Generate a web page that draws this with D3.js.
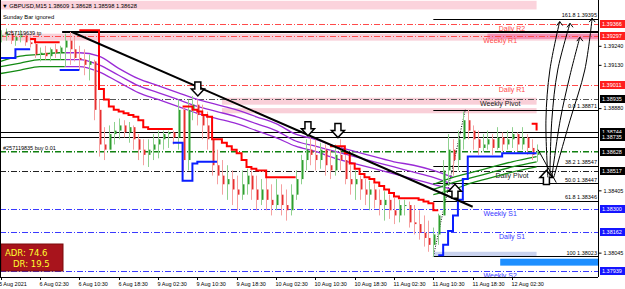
<!DOCTYPE html>
<html>
<head>
<meta charset="utf-8">
<script src="https://cdn.jsdelivr.net/npm/d3@7"></script>
<style>
  body { margin: 0; background: #fff; }
  svg { display: block; font-family: "Liberation Sans", Arial, sans-serif; }
</style>
</head>
<body>
<svg id="chart" width="625" height="289"></svg>
<script>
// ---- DATA (hourly slots, slot 0 = 5 Aug 18:30) ----
const timeSlots = [0, 8, 16, 24, 32, 40, 48, 56, 64, 72, 80, 88, 96, 104];
const timeLabels = ["5 Aug 2021", "6 Aug 02:30", "6 Aug 10:30", "6 Aug 18:30", "9 Aug 02:30",
  "9 Aug 10:30", "9 Aug 18:30", "10 Aug 02:30", "10 Aug 10:30", "10 Aug 18:30",
  "11 Aug 02:30", "11 Aug 10:30", "11 Aug 18:30", "12 Aug 02:30"];

const hi = [1.3933,1.3934,1.3933,1.3932,1.3933,1.3931,1.3930,1.3926,1.3923,1.3924,
  1.3923,1.3925,1.3924,1.3931,1.3932,1.3929,1.3924,1.3922,1.3919,1.3916,
  1.3893,1.3877,1.3878,1.3880,1.3882,1.3881,1.3880,1.3878,1.3873,1.3870,
  1.3870,1.3873,1.3875,1.3875,1.3875,1.3875,1.3893,1.3888,1.3893,1.3895,
  1.3893,1.3890,1.3886,1.3867,1.3864,1.3858,1.3855,1.3852,1.3849,1.3852,
  1.3853,1.3852,1.3849,1.3847,1.3848,1.3844,1.3847,1.3844,1.3841,1.3844,
  1.3852,1.3861,1.3870,1.3871,1.3870,1.3868,1.3867,1.3864,1.3867,1.3870,
  1.3861,1.3855,1.3852,1.3849,1.3847,1.3846,1.3844,1.3841,1.3840,1.3838,
  1.3836,1.3835,1.3835,1.3834,1.3832,1.3829,1.3826,1.3823,1.3819,1.3827,
  1.3858,1.3873,1.3870,1.3875,1.3886,1.3887,1.3878,1.3875,1.3873,1.3875,
  1.3873,1.3877,1.3874,1.3875,1.3877,1.3874,1.3877,1.3873,1.3870,1.3867];
const lo = [1.3926,1.3927,1.3925,1.3924,1.3926,1.3924,1.3923,1.3917,1.3915,1.3916,
  1.3915,1.3917,1.3916,1.3912,1.3913,1.3915,1.3910,1.3907,1.3904,1.3881,
  1.3860,1.3858,1.3864,1.3867,1.3870,1.3871,1.3868,1.3864,1.3858,1.3855,
  1.3854,1.3858,1.3859,1.3864,1.3865,1.3867,1.3864,1.3851,1.3852,1.3881,
  1.3878,1.3870,1.3864,1.3849,1.3844,1.3838,1.3835,1.3832,1.3829,1.3835,
  1.3838,1.3835,1.3829,1.3832,1.3829,1.3826,1.3829,1.3826,1.3823,1.3826,
  1.3835,1.3844,1.3852,1.3855,1.3852,1.3853,1.3849,1.3847,1.3849,1.3852,
  1.3844,1.3838,1.3835,1.3835,1.3832,1.3829,1.3830,1.3826,1.3823,1.3824,
  1.3821,1.3822,1.3826,1.3819,1.3815,1.3812,1.3808,1.3805,1.3802,1.3809,
  1.3826,1.3844,1.3849,1.3852,1.3864,1.3870,1.3864,1.3861,1.3863,1.3864,
  1.3861,1.3864,1.3863,1.3864,1.3865,1.3863,1.3864,1.3861,1.3858,1.3857];
const cl = [1.3930,1.3931,1.3927,1.3929,1.3930,1.3926,1.3925,1.3919,1.3920,1.3918,
  1.3922,1.3920,1.3923,1.3927,1.3922,1.3917,1.3916,1.3913,1.3915,1.3887,
  1.3867,1.3864,1.3873,1.3875,1.3878,1.3874,1.3877,1.3870,1.3864,1.3861,
  1.3864,1.3867,1.3870,1.3873,1.3874,1.3871,1.3887,1.3858,1.3887,1.3890,
  1.3884,1.3878,1.3870,1.3855,1.3849,1.3844,1.3847,1.3841,1.3838,1.3844,
  1.3849,1.3841,1.3835,1.3841,1.3835,1.3832,1.3838,1.3832,1.3829,1.3838,
  1.3847,1.3858,1.3864,1.3861,1.3858,1.3864,1.3855,1.3852,1.3861,1.3858,
  1.3847,1.3844,1.3847,1.3841,1.3838,1.3841,1.3835,1.3832,1.3835,1.3829,
  1.3826,1.3832,1.3832,1.3822,1.3821,1.3816,1.3813,1.3809,1.3815,1.3826,
  1.3852,1.3864,1.3858,1.3870,1.3881,1.3875,1.3870,1.3865,1.3867,1.3870,
  1.3865,1.3871,1.3867,1.3870,1.3873,1.3867,1.3871,1.3865,1.3861,1.38628];

const redStop = [null,null,null,null,null,null,1.3928,1.3926,1.3926,1.3926,
  1.3926,1.3926,1.3926,null,null,null,1.3933,1.3933,1.3933,1.3933,
  1.3899,1.3893,1.3889,1.3887,1.3886,1.3885,1.3884,1.3883,1.3881,1.3877,
  1.3876,1.3876,1.3876,1.3876,1.3876,1.3876,null,1.3889,1.3889,1.3887,
  1.3886,1.3884,1.3883,1.3870,1.3870,1.3868,1.3866,1.3864,1.3862,1.3858,
  1.3854,1.3853,1.3852,1.3852,1.3848,1.3848,1.3848,1.3848,1.3848,1.3848,
  1.3848,null,null,null,null,null,null,1.3866,1.3866,1.3866,
  1.3862,1.3856,1.3853,1.3850,1.3848,1.3847,1.3845,1.3843,1.3841,1.3839,
  1.3837,1.3836,1.3836,1.3836,1.3836,1.3835,1.3834,1.3833,1.3829,1.3829,
  null,null,null,null,null,null,null,null,null,null,
  null,null,null,null,null,null,null,null,1.3879,1.3875];
const blueStop = [1.3917,1.3917,1.3917,1.3922,1.3922,1.3922,1.3922,null,null,null,
  null,null,1.3910,1.3910,1.3910,1.3910,1.3910,null,null,null,
  null,null,null,null,null,null,null,null,null,null,
  null,null,null,null,null,1.3868,1.3868,1.3846,1.3846,1.3856,
  1.3857,1.3857,1.3857,1.3857,1.3857,null,null,null,null,null,
  null,null,null,null,null,null,null,null,null,null,
  null,null,null,null,null,null,null,null,null,null,
  null,null,null,null,null,null,null,null,null,null,
  null,null,null,null,null,null,null,null,null,1.3803,
  1.3809,1.3817,1.3826,1.3835,1.3847,1.3860,1.3860,1.3860,1.3860,1.3860,
  1.3860,1.3860,1.3862,1.3862,1.3862,1.3862,1.3862,1.3862,1.3862,1.3862];

// moving-average envelope (purple while falling, green while rising)
const purpleSlots = [13,16,20,24,28,32,36,40,44,48,52,56,60,64,68,72,76,80,84,88,92];
const purpleTop = [1.3920,1.3920,1.3918,1.3911,1.3905,1.3901,1.3897,1.3893,1.3890,1.3887,1.3883,
  1.3879,1.3873,1.3870,1.3866,1.3863,1.3860,1.3857,1.3855,1.3852,1.3848];
const purpleMid = [1.3916,1.3916,1.3913,1.3907,1.3901,1.3897,1.3893,1.3889,1.3886,1.3883,1.3879,
  1.3875,1.3869,1.3866,1.3863,1.3860,1.3857,1.3854,1.3851,1.3848,1.3844];
const purpleBot = [1.3912,1.3912,1.3909,1.3903,1.3897,1.3893,1.3889,1.3885,1.3882,1.3879,1.3875,
  1.3871,1.3866,1.3863,1.3859,1.3856,1.3853,1.3850,1.3847,1.3844,1.3841];
const greenLeftSlots = [0, 4, 8, 12, 13];
const greenLeftTop = [1.3915, 1.3918, 1.3919, 1.3920, 1.3920];
const greenLeftMid = [1.3912, 1.3914, 1.3916, 1.3916, 1.3916];
const greenLeftBot = [1.3908, 1.3910, 1.3912, 1.3912, 1.3912];
const greenRightSlots = [88, 92, 96, 100, 104, 109];
const greenRightTop = [1.3844, 1.3848, 1.3851, 1.3854, 1.3857, 1.3860];
const greenRightMid = [1.3841, 1.3845, 1.3848, 1.3851, 1.3854, 1.3857];
const greenRightBot = [1.3838, 1.3841, 1.3845, 1.3848, 1.3851, 1.3854];

// pivot levels
const pivotNames = ["Daily R2", "Weekly R1", "Daily R1", "Weekly Pivot", "Daily Pivot", "Weekly S1", "Daily S1", "Weekly S2"];
const pivotPrices = [1.39366, 1.39297, 1.39011, 1.38935, 1.38517, 1.38300, 1.38162, 1.37939];
const pivotKinds = ["R", "R", "R", "P", "P", "S", "S", "S"];
const pivotWeekly = [false, true, false, true, false, true, false, true];

// fibonacci from the 11 Aug low to the high
const fibRatios = ["0.0", "38.2", "50.0", "61.8", "100", "161.8"];
const fibPrices = [1.38871, 1.38547, 1.38447, 1.38346, 1.38023, 1.39395];
const fibAnchor = [[88, 1.38023], [94.5, 1.38871]];
const trendLine = [[14.5, 1.3932], [96, 1.3831]];

// order / manual lines
const tpPrice = 1.3932, buyPrice = 1.38628;
const blackLines = [1.38744, 1.38715];

// axis
const axisTicks = [1.39240, 1.39130, 1.38880, 1.38405, 1.38045];
const tagPrices = [1.39366, 1.39297, 1.39011, 1.38935, 1.38744, 1.38715, 1.38628, 1.38517, 1.38300, 1.38162, 1.37939];
const tagTexts = ["1.39366", "1.39297", "1.39011", "1.38935", "1.38744", "1.38735", "1.38628", "1.38517", "1.38300", "1.38162", "1.37939"];
const tagKinds = ["R", "R", "R", "K", "K", "K", "K", "K", "S", "S", "S"];

// annotations
const arrowsDown = [[40.1, 1.3895], [62.5, 1.3872], [68.6, 1.3871]];
const arrowsUp = [[92.4, 1.3844], [111, 1.3852]];
const sketchLines = [
  [[111.3, 1.3848], [110.9, 1.3881], [111.7, 1.3910], [113.7, 1.3938]],
  [[111.7, 1.3848], [112.1, 1.3881], [113.3, 1.3910], [115.8, 1.3937]],
  [[112.1, 1.3848], [113.8, 1.3881], [115.8, 1.3907], [117.8, 1.3929]],
  [[112.5, 1.3848], [115.8, 1.3881], [118.8, 1.3910], [120.3, 1.3940]]
];
const sketchCross = [[109.3, 1.3864], [113.0, 1.3845]];

// ---- SETUP ----
const svg = d3.select("#chart");
const plotR = 598, plotB = 277;
const x = d3.scaleLinear().domain([8, 104]).range([40, 512]);
const y = d3.scaleLinear().domain([1.37939, 1.39366]).range([271, 24]);
const xEnd = x.invert(plotR);

svg.append("defs").append("clipPath").attr("id", "clip")
  .append("rect").attr("x", 0).attr("y", 0).attr("width", plotR).attr("height", plotB);
const plot = svg.append("g").attr("clip-path", "url(#clip)");

const pinkZone = (p1, p2, s1, s2, col) => plot.append("rect")
  .attr("x", x(s1)).attr("width", x(s2) - x(s1))
  .attr("y", y(p2)).attr("height", y(p1) - y(p2)).attr("fill", col);

// ZONES
pinkZone(1.3945, 1.3950, 0, 109, "#fbd3dc");
pinkZone(1.3927, 1.3931, 0, xEnd, "#f9cfd8");
pinkZone(1.3928, 1.3931, 99, xEnd, "#f48fb6");
pinkZone(1.3890, 1.3894, 45, 109, "#f9cfd8");
pinkZone(1.3885, 1.3888, 45, 109, "#f9cfd8");
pinkZone(1.3802, 1.3805, 88, 109, "#c9d2ee");
pinkZone(1.3797, 1.3801, 101.6, xEnd, "#1e8fff");

// PIVOT LINES
const kindColor = { R: "#ff4a4a", P: "#555", S: "#3a3aff" };
pivotPrices.forEach((p, i) => {
  const c = pivotKinds[i] === "P" && !pivotWeekly[i] ? "#222" : kindColor[pivotKinds[i]];
  plot.append("line").attr("x1", 0).attr("x2", plotR)
    .attr("y1", Math.round(y(p)) + 0.5).attr("y2", Math.round(y(p)) + 0.5)
    .attr("stroke", c).attr("stroke-width", 1).attr("stroke-dasharray", "6,2,1,2");
  plot.append("text").attr("x", pivotWeekly[i] ? x(101.6) : x(104)).attr("y", y(p) + 7)
    .attr("text-anchor", "middle").attr("font-size", 7)
    .attr("fill", pivotKinds[i] === "P" ? "#222" : c).text(pivotNames[i]);
});

// order lines
plot.append("line").attr("x1", 0).attr("x2", plotR).attr("y1", y(buyPrice)).attr("y2", y(buyPrice))
  .attr("stroke", "#108010").attr("stroke-width", 1.6).attr("stroke-dasharray", "6,2,1,2");
blackLines.forEach(p => plot.append("line").attr("x1", 0).attr("x2", plotR)
  .attr("y1", Math.round(y(p)) + 0.5).attr("y2", Math.round(y(p)) + 0.5).attr("stroke", "#000"));
plot.append("line").attr("x1", x(12.5)).attr("x2", plotR).attr("y1", y(tpPrice)).attr("y2", y(tpPrice))
  .attr("stroke", "#000").attr("stroke-width", 2);

// FIB
fibPrices.forEach((p, i) => {
  plot.append("line").attr("x1", x(fibAnchor[0][0])).attr("x2", plotR)
    .attr("y1", Math.round(y(p)) + 0.5).attr("y2", Math.round(y(p)) + 0.5).attr("stroke", "#000");
  plot.append("text").attr("x", plotR - 1).attr("y", y(p) - 1.5).attr("text-anchor", "end")
    .attr("font-size", 5.5).attr("fill", "#000").text(fibRatios[i] + " " + p.toFixed(5));
});
plot.append("line").attr("x1", x(fibAnchor[0][0])).attr("y1", y(fibAnchor[0][1]))
  .attr("x2", x(fibAnchor[1][0])).attr("y2", y(fibAnchor[1][1]))
  .attr("stroke", "#000").attr("stroke-dasharray", "1,1.5");

// ENVELOPES
const env = (slots, vals, col) => plot.append("path")
  .datum(slots.map((s, i) => [s, vals[i]]))
  .attr("d", d3.line().x(d => x(d[0])).y(d => y(d[1])).curve(d3.curveMonotoneX))
  .attr("fill", "none").attr("stroke", col).attr("stroke-width", 1.3);
[purpleTop, purpleMid, purpleBot].forEach(v => env(purpleSlots, v, "#9a2bd6"));
[greenLeftTop, greenLeftMid, greenLeftBot].forEach(v => env(greenLeftSlots, v, "#138a13"));
[greenRightTop, greenRightMid, greenRightBot].forEach(v => env(greenRightSlots, v, "#138a13"));

// CANDLES
const candles = cl.map((c, i) => ({ i, o: i ? cl[i - 1] : c, h: hi[i], l: lo[i], c }));
const gc = plot.append("g");
gc.selectAll("line").data(candles).join("line")
  .attr("x1", d => Math.round(x(d.i)) + 0.5).attr("x2", d => Math.round(x(d.i)) + 0.5)
  .attr("y1", d => y(Math.max(d.h, d.o, d.c))).attr("y2", d => y(Math.min(d.l, d.o, d.c)))
  .attr("stroke", d => d.c >= d.o ? "#8fd18f" : "#f5a0a0");
gc.selectAll("rect").data(candles).join("rect")
  .attr("x", d => Math.round(x(d.i)) + 1).attr("width", 1.5)
  .attr("y", d => y(Math.max(d.o, d.c)))
  .attr("height", d => Math.max(1, Math.abs(y(d.o) - y(d.c))))
  .attr("fill", d => d.c >= d.o ? "#2f9e2f" : "#e83030");

// STOP LINES
const stopLine = d3.line().defined(d => d != null).x((d, i) => x(i)).y(d => y(d)).curve(d3.curveStepAfter);
plot.append("path").datum(redStop).attr("d", stopLine).attr("fill", "none")
  .attr("stroke", "#ff0000").attr("stroke-width", 2);
plot.append("path").datum(blueStop).attr("d", stopLine).attr("fill", "none")
  .attr("stroke", "#0a1eff").attr("stroke-width", 2);

// TREND LINE
plot.append("line").attr("x1", x(trendLine[0][0])).attr("y1", y(trendLine[0][1]))
  .attr("x2", x(trendLine[1][0])).attr("y2", y(trendLine[1][1]))
  .attr("stroke", "#000").attr("stroke-width", 2);

// ARROWS
const arrowPts = "-3,-14 3,-14 3,-7 6.5,-7 0,0 -6.5,-7 -3,-7";
arrowsDown.forEach(a => plot.append("polygon").attr("points", arrowPts)
  .attr("transform", `translate(${x(a[0])},${y(a[1])})`)
  .attr("fill", "#fff").attr("stroke", "#000").attr("stroke-width", 1.5));
arrowsUp.forEach(a => plot.append("polygon").attr("points", arrowPts)
  .attr("transform", `translate(${x(a[0])},${y(a[1])}) scale(1,-1)`)
  .attr("fill", "#fff").attr("stroke", "#000").attr("stroke-width", 1.5));

// hand drawn arrows
const sk = d3.line().x(d => x(d[0])).y(d => y(d[1])).curve(d3.curveCatmullRom);
sketchLines.forEach(s => {
  plot.append("path").datum(s).attr("d", sk).attr("fill", "none").attr("stroke", "#000").attr("stroke-width", 1);
  const t = s[s.length - 1];
  plot.append("path").attr("d", `M${x(t[0]) - 3},${y(t[1]) + 4}L${x(t[0])},${y(t[1])}L${x(t[0]) + 3},${y(t[1]) + 4}`)
    .attr("fill", "none").attr("stroke", "#000");
});
plot.append("path").datum(sketchCross).attr("d", sk).attr("fill", "none").attr("stroke", "#000");

// TEXT OVERLAYS
const t = (tx, ty, s, size, col) => plot.append("text").attr("x", tx).attr("y", ty)
  .attr("font-size", size).attr("fill", col || "#000").text(s);
t(2, 8, "\u25BC GBPUSD,M15  1.38609 1.38628 1.38598 1.38628", 5.8);
t(3, 19, "Sunday Bar ignored", 5.8);
t(5, 35, "#257119639 tp", 5.5);
t(3, 150, "#257119835 buy 0.01", 5.5);

// ADR box
plot.append("rect").attr("x", 1).attr("y", 244).attr("width", 62).attr("height", 27)
  .attr("fill", "#a8141c").attr("stroke", "#7a0a0a");
plot.append("text").attr("x", 5).attr("y", 256).attr("font-family", "DejaVu Sans")
  .attr("font-size", 8.5).attr("fill", "#ffff30").text("ADR: 74.6");
plot.append("text").attr("x", 13).attr("y", 267).attr("font-family", "DejaVu Sans")
  .attr("font-size", 8.5).attr("fill", "#ffff30").text("DR: 19.5");

// AXES
svg.append("line").attr("x1", 0.5).attr("x2", 0.5).attr("y1", 0).attr("y2", plotB).attr("stroke", "#000");
svg.append("line").attr("x1", plotR + 0.5).attr("x2", plotR + 0.5).attr("y1", 0).attr("y2", plotB).attr("stroke", "#000");
svg.append("line").attr("x1", 0).attr("x2", plotR).attr("y1", plotB + 0.5).attr("y2", plotB + 0.5).attr("stroke", "#000");

const ya = svg.append("g").attr("transform", `translate(${plotR + 0.5},0)`)
  .call(d3.axisRight(y).tickValues(axisTicks).tickSize(3).tickPadding(2).tickFormat(d3.format(".5f")));
ya.select(".domain").remove();
ya.selectAll("text").attr("font-size", 5.5).attr("font-family", "Liberation Sans");

const tagColor = { R: "#ff1f1f", K: "#000", S: "#1515ff" };
tagPrices.forEach((p, i) => {
  const yy = Math.round(y(p));
  svg.append("rect").attr("x", 600).attr("y", yy - 4).attr("width", 25).attr("height", 8)
    .attr("fill", tagColor[tagKinds[i]]);
  svg.append("text").attr("x", 602).attr("y", yy + 2).attr("font-size", 5.5)
    .attr("fill", "#fff").text(tagTexts[i]);
});

const xa = svg.append("g");
timeSlots.forEach((s, i) => {
  const xx = Math.round(x(s)) + 0.5;
  xa.append("line").attr("x1", xx).attr("x2", xx).attr("y1", plotB).attr("y2", plotB + 3).attr("stroke", "#000");
  xa.append("text").attr("x", i === 0 ? -1 : xx - 1).attr("y", 286).attr("font-size", 5.5).text(timeLabels[i]);
});
</script>
</body>
</html>
